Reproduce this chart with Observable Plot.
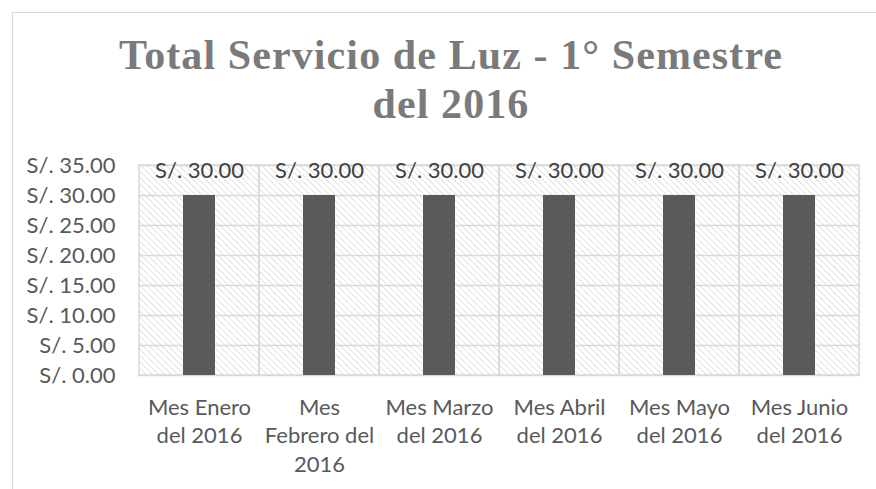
<!DOCTYPE html>
<html>
<head>
<meta charset="utf-8">
<script src="https://cdn.jsdelivr.net/npm/d3@7"></script>
<script src="https://cdn.jsdelivr.net/npm/@observablehq/plot@0.6"></script>
<style>
  html, body { margin: 0; padding: 0; background: #fff; overflow: hidden; }
  #wrap { position: relative; width: 876px; height: 489px; }
  #frame { position: absolute; left: 12px; top: 12px; width: 1000px; height: 1000px; border-left: 1.5px solid #d9d9d9; border-top: 1.5px solid #d9d9d9; box-sizing: border-box; }
  #title { position: absolute; left: 0; top: 31px; width: 902px; text-align: center; font-family: "Liberation Serif", serif; font-weight: bold; font-size: 42px; line-height: 49px; letter-spacing: 1.1px; color: #7a7a7a; margin: 0; }
  #chart { position: absolute; left: 0; top: 0; }
</style>
</head>
<body>
<div id="wrap">
  <div id="frame"></div>
  <div id="chart"></div>
  <h2 id="title">Total Servicio de Luz - 1° Semestre<br>del 2016</h2>
</div>
<script>
const months = ["Mes Enero\ndel 2016", "Mes\nFebrero del\n2016", "Mes Marzo\ndel 2016", "Mes Abril\ndel 2016", "Mes Mayo\ndel 2016", "Mes Junio\ndel 2016"];
const values = [30, 30, 30, 30, 30, 30];
const yTicks = [0, 5, 10, 15, 20, 25, 30, 35];

const data = months.map((m, i) => ({month: m, value: values[i]}));
const fmt = d => "S/. " + d.toFixed(2);

const plot = Plot.plot({
  width: 876,
  height: 489,
  marginLeft: 138,
  marginRight: 16,
  marginTop: 165,
  marginBottom: 114,
  style: {background: "transparent", fontFamily: "Lato, sans-serif"},
  x: {domain: months, padding: 0},
  y: {domain: [0, 35]},
  marks: [
    Plot.frame({fill: "url(#hatch)", stroke: "none"}),
    Plot.ruleY(yTicks, {stroke: "#d9d9d9", strokeWidth: 1.5}),
    Plot.cell(months, {x: d => d, fill: "none", stroke: "#d9d9d9", strokeWidth: 1.5}),
    Plot.barY(data, {x: "month", y: "value", fill: "#5a5a5a", insetLeft: 44, insetRight: 44}),
    Plot.text(data, {x: "month", y: "value", text: d => fmt(d.value), dy: -25, fill: "#404040", fontSize: 22, lineAnchor: "middle"}),
    Plot.axisY({ticks: yTicks, tickFormat: fmt, tickSize: 0, tickPadding: 23, fontSize: 22, color: "#595959", label: null}),
    Plot.axisX({tickSize: 0, tickPadding: 19, fontSize: 22, color: "#595959", label: null, lineHeight: 1.3, lineAnchor: "top"})
  ]
});

const ns = "http://www.w3.org/2000/svg";
const defs = document.createElementNS(ns, "defs");
defs.innerHTML = `<pattern id="hatch" patternUnits="userSpaceOnUse" width="4.5" height="4.5" patternTransform="rotate(-45)">
  <rect width="4.5" height="4.5" fill="#ffffff"/>
  <line x1="0" y1="0" x2="0" y2="4.5" stroke="#d9d9d9" stroke-width="1.5"/>
</pattern>`;
plot.insertBefore(defs, plot.firstChild);
document.getElementById("chart").appendChild(plot);
</script>
</body>
</html>
